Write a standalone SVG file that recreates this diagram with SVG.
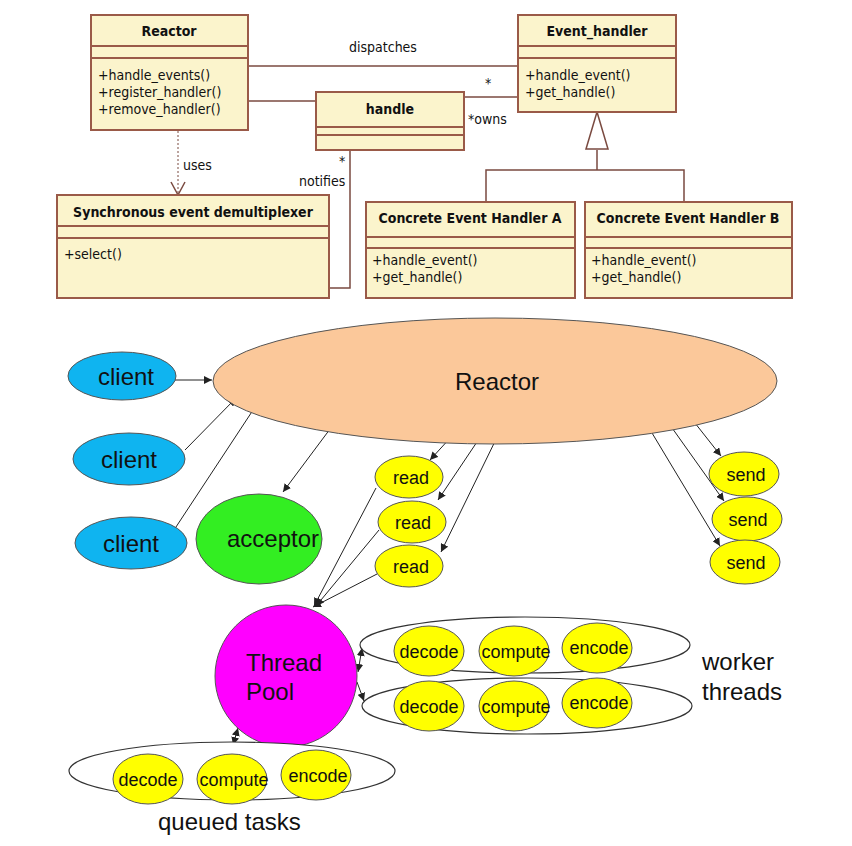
<svg xmlns="http://www.w3.org/2000/svg" width="852" height="846" viewBox="0 0 852 846">
<defs>
<style>
.box{fill:#fbf4cc;stroke:#9a5a48;stroke-width:2}
.sep{stroke:#9a5a48;stroke-width:2}
.uml{font-family:"DejaVu Sans Condensed","DejaVu Sans",sans-serif;font-size:14px;fill:#111}
.b{font-weight:bold}
.ln{stroke:#7a4a40;stroke-width:1.5;fill:none}
.a{stroke:#222;stroke-width:1;fill:none;marker-end:url(#ah)}
.d{stroke:#222;stroke-width:1;fill:none;marker-end:url(#ah);marker-start:url(#as)}
.t{font-family:"Liberation Sans",Arial,sans-serif;fill:#111}
.y{fill:#ffff00;stroke:#555;stroke-width:1}
.w{fill:#fff;stroke:#333;stroke-width:1.2}
</style>
<marker id="ah" markerWidth="8" markerHeight="8" refX="8" refY="4" orient="auto" markerUnits="userSpaceOnUse"><path d="M0,0 L8,4 L0,8 z" fill="#222"/></marker>
<marker id="as" markerWidth="8" markerHeight="8" refX="0" refY="4" orient="auto" markerUnits="userSpaceOnUse"><path d="M8,0 L0,4 L8,8 z" fill="#222"/></marker>
</defs>
<rect width="852" height="846" fill="#fff"/>
<g id="connectors">
<line class="ln" x1="248" y1="66" x2="518" y2="66"/>
<line class="ln" x1="248" y1="101" x2="316" y2="101"/>
<line class="ln" x1="464" y1="97" x2="518" y2="97"/>
<path class="ln" d="M597,150 V170 M486,202 V170 H684 V202"/>
<path d="M597,112 L586,149 L608,149 Z" fill="#fff" stroke="#7a4a40" stroke-width="1.5"/>
<line x1="178" y1="131" x2="178" y2="194" stroke="#7a4a40" stroke-width="1" stroke-dasharray="2,2"/>
<path class="ln" d="M171,182 L178,195 L185,182"/>
<path class="ln" d="M350,150 V288 H329"/>
<text class="uml" x="349" y="52">dispatches</text>
<text class="uml" x="485" y="88">*</text>
<text class="uml" x="468" y="124">*owns</text>
<text class="uml" x="339" y="166">*</text>
<text class="uml" x="299" y="186">notifies</text>
<text class="uml" x="183" y="170">uses</text>
<line class="a" x1="175" y1="380" x2="212" y2="380"/>
<line class="a" x1="185" y1="450" x2="236" y2="398"/>
<line class="a" x1="174" y1="530" x2="259" y2="401"/>
<line class="d" x1="283" y1="492" x2="336" y2="421"/>
<line class="a" x1="462" y1="425" x2="430" y2="460"/>
<line class="a" x1="487" y1="427" x2="438" y2="500"/>
<line class="a" x1="502" y1="427" x2="441" y2="552"/>
<line class="a" x1="376" y1="488" x2="314" y2="606"/>
<line class="a" x1="379" y1="530" x2="316" y2="606"/>
<line class="a" x1="377" y1="574" x2="313" y2="607"/>
<line class="a" x1="691" y1="418" x2="721" y2="456"/>
<line class="a" x1="665" y1="418" x2="724" y2="501"/>
<line class="a" x1="643" y1="418" x2="720" y2="546"/>
<line class="d" x1="358" y1="672" x2="362" y2="648"/>
<line class="a" x1="357" y1="682" x2="364" y2="701"/>
<line class="d" x1="233" y1="745" x2="238" y2="728"/>
</g>
<g id="uml-reactor">
<rect class="box" x="91" y="15" width="157" height="115"/>
<line class="sep" x1="91" y1="46" x2="248" y2="46"/><line class="sep" x1="91" y1="58" x2="248" y2="58"/>
<text class="uml b" x="169" y="36" text-anchor="middle">Reactor</text>
<text class="uml" x="98" y="80">+handle_events()</text>
<text class="uml" x="98" y="97">+register_handler()</text>
<text class="uml" x="98" y="114">+remove_handler()</text>
</g>
<g id="uml-event-handler">
<rect class="box" x="518" y="15" width="158" height="97"/>
<line class="sep" x1="518" y1="46" x2="676" y2="46"/><line class="sep" x1="518" y1="58" x2="676" y2="58"/>
<text class="uml b" x="597" y="36" text-anchor="middle">Event_handler</text>
<text class="uml" x="525" y="80">+handle_event()</text>
<text class="uml" x="525" y="97">+get_handle()</text>
</g>
<g id="uml-handle">
<rect class="box" x="316" y="92" width="148" height="58"/>
<line class="sep" x1="316" y1="127" x2="464" y2="127"/><line class="sep" x1="316" y1="135" x2="464" y2="135"/>
<text class="uml b" x="390" y="114" text-anchor="middle">handle</text>
</g>
<g id="uml-demux">
<rect class="box" x="57" y="195" width="272" height="103"/>
<line class="sep" x1="57" y1="226" x2="329" y2="226"/><line class="sep" x1="57" y1="238" x2="329" y2="238"/>
<text class="uml b" x="193" y="217" text-anchor="middle">Synchronous event demultiplexer</text>
<text class="uml" x="64" y="259">+select()</text>
</g>
<g id="uml-concrete-a">
<rect class="box" x="366" y="202" width="209" height="96"/>
<line class="sep" x1="366" y1="237" x2="575" y2="237"/><line class="sep" x1="366" y1="248" x2="575" y2="248"/>
<text class="uml b" x="470" y="223" text-anchor="middle">Concrete Event Handler A</text>
<text class="uml" x="372" y="265">+handle_event()</text>
<text class="uml" x="372" y="282">+get_handle()</text>
</g>
<g id="uml-concrete-b">
<rect class="box" x="585" y="202" width="207" height="96"/>
<line class="sep" x1="585" y1="237" x2="792" y2="237"/><line class="sep" x1="585" y1="248" x2="792" y2="248"/>
<text class="uml b" x="688" y="223" text-anchor="middle">Concrete Event Handler B</text>
<text class="uml" x="591" y="265">+handle_event()</text>
<text class="uml" x="591" y="282">+get_handle()</text>
</g>
<g id="reactor">
<ellipse cx="495" cy="381" rx="282" ry="63" fill="#fbc89a" stroke="#555"/>
<text class="t" x="497" y="390" font-size="24" text-anchor="middle">Reactor</text>
</g>
<g id="client1"><ellipse cx="122" cy="376" rx="54" ry="24" fill="#0fb4f0" stroke="#555"/><text class="t" x="126" y="385" font-size="24" text-anchor="middle">client</text></g>
<g id="client2"><ellipse cx="129" cy="459" rx="56" ry="26" fill="#0fb4f0" stroke="#555"/><text class="t" x="129" y="468" font-size="24" text-anchor="middle">client</text></g>
<g id="client3"><ellipse cx="131" cy="543" rx="56" ry="26" fill="#0fb4f0" stroke="#555"/><text class="t" x="131" y="552" font-size="24" text-anchor="middle">client</text></g>
<g id="acceptor"><ellipse cx="259" cy="539" rx="63" ry="45" fill="#33ee22" stroke="#555"/><text class="t" x="273" y="547" font-size="24" text-anchor="middle">acceptor</text></g>
<g id="read1"><ellipse class="y" cx="409" cy="477" rx="34" ry="21"/><text class="t" x="411" y="484" font-size="18" text-anchor="middle">read</text></g>
<g id="read2"><ellipse class="y" cx="412" cy="522" rx="34" ry="21"/><text class="t" x="413" y="529" font-size="18" text-anchor="middle">read</text></g>
<g id="read3"><ellipse class="y" cx="409" cy="566" rx="34" ry="21"/><text class="t" x="411" y="573" font-size="18" text-anchor="middle">read</text></g>
<g id="send1"><ellipse class="y" cx="744" cy="474" rx="35" ry="22"/><text class="t" x="746" y="481" font-size="18" text-anchor="middle">send</text></g>
<g id="send2"><ellipse class="y" cx="747" cy="519" rx="35" ry="22"/><text class="t" x="748" y="526" font-size="18" text-anchor="middle">send</text></g>
<g id="send3"><ellipse class="y" cx="745" cy="562" rx="35" ry="22"/><text class="t" x="746" y="569" font-size="18" text-anchor="middle">send</text></g>
<g id="thread-pool"><ellipse cx="286" cy="676" rx="71" ry="71" fill="#ff00ff" stroke="#555"/>
<text class="t" x="246" y="671" font-size="24">Thread</text><text class="t" x="246" y="700" font-size="24">Pool</text></g>
<g id="workers1"><ellipse class="w" cx="525" cy="645" rx="165" ry="28"/>
<ellipse class="y" cx="429" cy="651" rx="35" ry="25"/><ellipse class="y" cx="514" cy="651" rx="35" ry="25"/><ellipse class="y" cx="597" cy="648" rx="35" ry="25"/>
<text class="t" x="429" y="658" font-size="18" text-anchor="middle">decode</text><text class="t" x="516" y="658" font-size="18" text-anchor="middle">compute</text><text class="t" x="599" y="654" font-size="18" text-anchor="middle">encode</text></g>
<g id="workers2"><ellipse class="w" cx="527" cy="706" rx="165" ry="28"/>
<ellipse class="y" cx="429" cy="706" rx="35" ry="25"/><ellipse class="y" cx="514" cy="706" rx="35" ry="25"/><ellipse class="y" cx="597" cy="703" rx="35" ry="25"/>
<text class="t" x="429" y="713" font-size="18" text-anchor="middle">decode</text><text class="t" x="516" y="713" font-size="18" text-anchor="middle">compute</text><text class="t" x="599" y="709" font-size="18" text-anchor="middle">encode</text></g>
<g id="queued"><ellipse class="w" cx="232" cy="771" rx="163" ry="29"/>
<ellipse class="y" cx="148" cy="779" rx="35" ry="25"/><ellipse class="y" cx="232" cy="779" rx="35" ry="25"/><ellipse class="y" cx="316" cy="775" rx="35" ry="25"/>
<text class="t" x="148" y="786" font-size="18" text-anchor="middle">decode</text><text class="t" x="234" y="786" font-size="18" text-anchor="middle">compute</text><text class="t" x="318" y="782" font-size="18" text-anchor="middle">encode</text></g>
<g id="labels">
<text class="t" x="702" y="670" font-size="24">worker</text>
<text class="t" x="702" y="700" font-size="24">threads</text>
<text class="t" x="158" y="830" font-size="24">queued tasks</text>
</g>
</svg>
